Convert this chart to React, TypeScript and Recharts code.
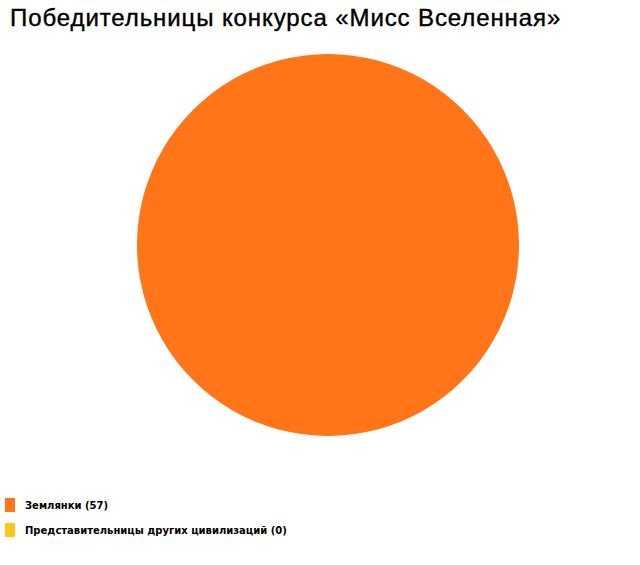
import React from 'react';
import { PieChart, Pie, Cell } from 'recharts';

const TITLE = 'Победительницы конкурса «Мисс Вселенная»';
const categories = ['Землянки', 'Представительницы других цивилизаций'];
const values = [57, 0];
const colors = ['#FF7518', '#F9C81A'];

const data = categories.map((name, i) => ({ name, value: values[i] }));

export default function App() {
  return (
    <div style={{ position: 'absolute', left: 0, top: 0, width: 640, height: 565, background: '#fff', overflow: 'hidden' }}>
      <div
        style={{
          position: 'absolute',
          left: 10,
          top: 4,
          fontFamily: '"Liberation Sans", Arial, sans-serif',
          fontSize: 24,
          color: '#000',
          whiteSpace: 'nowrap',
          letterSpacing: 0.9,
          WebkitTextStroke: '0.4px #000',
        }}
      >
        {TITLE}
      </div>
      <div style={{ position: 'absolute', left: 0, top: 0 }}>
        <PieChart width={640} height={480} margin={{ top: 0, right: 0, bottom: 0, left: 0 }}>
          <Pie
            data={data}
            dataKey="value"
            nameKey="name"
            cx={328}
            cy={245}
            outerRadius={191}
            startAngle={90}
            endAngle={-270}
            stroke="none"
            isAnimationActive={false}
          >
            {data.map((d, i) => (
              <Cell key={d.name} fill={colors[i]} />
            ))}
          </Pie>
        </PieChart>
      </div>
      {data.map((d, i) => (
        <div
          key={d.name}
          style={{
            position: 'absolute',
            left: 5,
            top: 498 + i * 25,
            height: 14,
            display: 'flex',
            alignItems: 'center',
            fontFamily: '"DejaVu Sans", Verdana, sans-serif',
            fontWeight: 'bold',
            fontSize: 10,
            color: '#000',
            whiteSpace: 'nowrap',
          }}
        >
          <span style={{ display: 'inline-block', width: 10, height: 14, background: colors[i], marginRight: 10 }} />
          <span>{`${d.name} (${d.value})`}</span>
        </div>
      ))}
    </div>
  );
}
